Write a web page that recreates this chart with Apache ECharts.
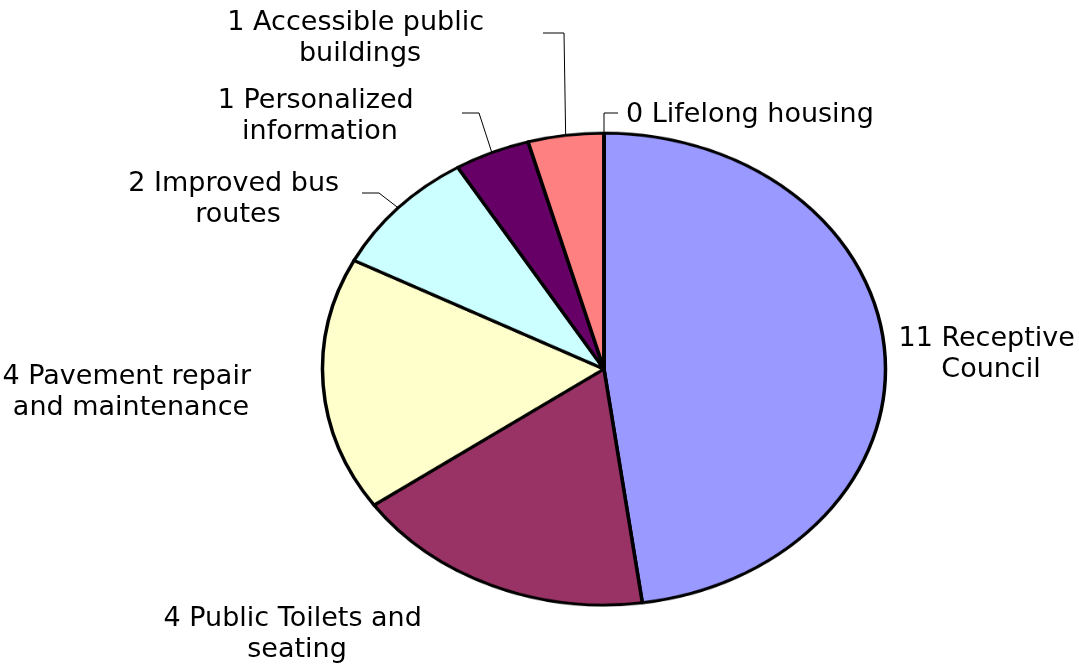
<!DOCTYPE html>
<html><head><meta charset="utf-8">
<script src="https://cdn.jsdelivr.net/npm/echarts@6/dist/echarts.min.js"></script>
<style>
html,body{margin:0;padding:0;background:#fff;width:1079px;height:664px;overflow:hidden}
#wrap{position:relative;width:1079px;height:664px}
#pie{position:absolute;left:0;top:0;width:1079px;transform-origin:0 0}
#lab{position:absolute;left:0;top:0;width:1079px;height:664px}
</style></head><body>
<div id="wrap"><div id="pie"></div><div id="lab"></div></div>
<script>
// ---- data ----
const categories = ['Receptive Council','Public Toilets and seating','Pavement repair and maintenance','Improved bus routes','Personalized information','Accessible public buildings','Lifelong housing'];
const values = [11, 4, 4, 2, 1, 1, 0];
const colors = ['#9999FF','#993366','#FFFFCC','#CCFFFF','#660066','#FF8080','#0066CC'];

// ---- layout (ellipse and label placement) ----
const CX = 604, CY = 369, RX = 281.5, RY = 236;
const K = RY / RX;
const labelPlace = [
  {x: 991, y: 354, w: 195},
  {x: 297, y: 634, w: 285},
  {x: 131, y: 392, w: 272},
  {x: 238, y: 199, w: 250, line: [[379, 193], [362, 193]]},
  {x: 320, y: 116, w: 215, line: [[479, 113], [462, 113]]},
  {x: 360, y: 38,  w: 272, line: [[564, 33], [543, 33]]},
  {x: 626, y: 115, w: 300, align: 'left', line: [[604, 113], [618, 113]]}
];

// elliptical pie: circle drawn by ECharts, squeezed vertically
const pieDiv = document.getElementById('pie');
pieDiv.style.height = (664 / K) + 'px';
pieDiv.style.transform = 'scaleY(' + K + ')';
const pie = echarts.init(pieDiv);
pie.setOption({
  animation: false,
  series: [{
    type: 'pie', center: [CX, CY / K], radius: RX, startAngle: 90, clockwise: true,
    silent: true, label: {show: false}, labelLine: {show: false},
    itemStyle: {borderColor: '#000', borderWidth: 3.5},
    data: categories.map((n, i) => ({name: n, value: values[i], itemStyle: {color: colors[i]}}))
  }]
});

// labels overlay
const lab = echarts.init(document.getElementById('lab'));
lab.setOption({
  backgroundColor: 'transparent',
  animation: false,
  series: [{
    type: 'pie', center: [CX, CY], radius: RX, startAngle: 90, clockwise: true,
    avoidLabelOverlap: false, silent: true,
    itemStyle: {color: 'rgba(0,0,0,0)', borderWidth: 0},
    label: {show: true, position: 'outside', formatter: '{c} {b}', fontFamily: 'DejaVu Sans',
            fontSize: 27, lineHeight: 31, color: '#000', overflow: 'break'},
    labelLine: {show: true, lineStyle: {color: '#000', width: 1}},
    labelLayout: function (p) {
      const s = labelPlace[p.dataIndex];
      const out = {x: s.x, y: s.y, align: s.align || 'center', verticalAlign: 'middle'};
      if (s.line && p.labelLinePoints) {
        const p0 = p.labelLinePoints[0];
        out.labelLinePoints = [[p0[0], CY + (p0[1] - CY) * K], s.line[0], s.line[1]];
      }
      return out;
    },
    data: categories.map((n, i) => ({
      name: n, value: values[i],
      label: {width: labelPlace[i].w},
      labelLine: {show: !!labelPlace[i].line}
    }))
  }]
});
</script>
</body></html>
